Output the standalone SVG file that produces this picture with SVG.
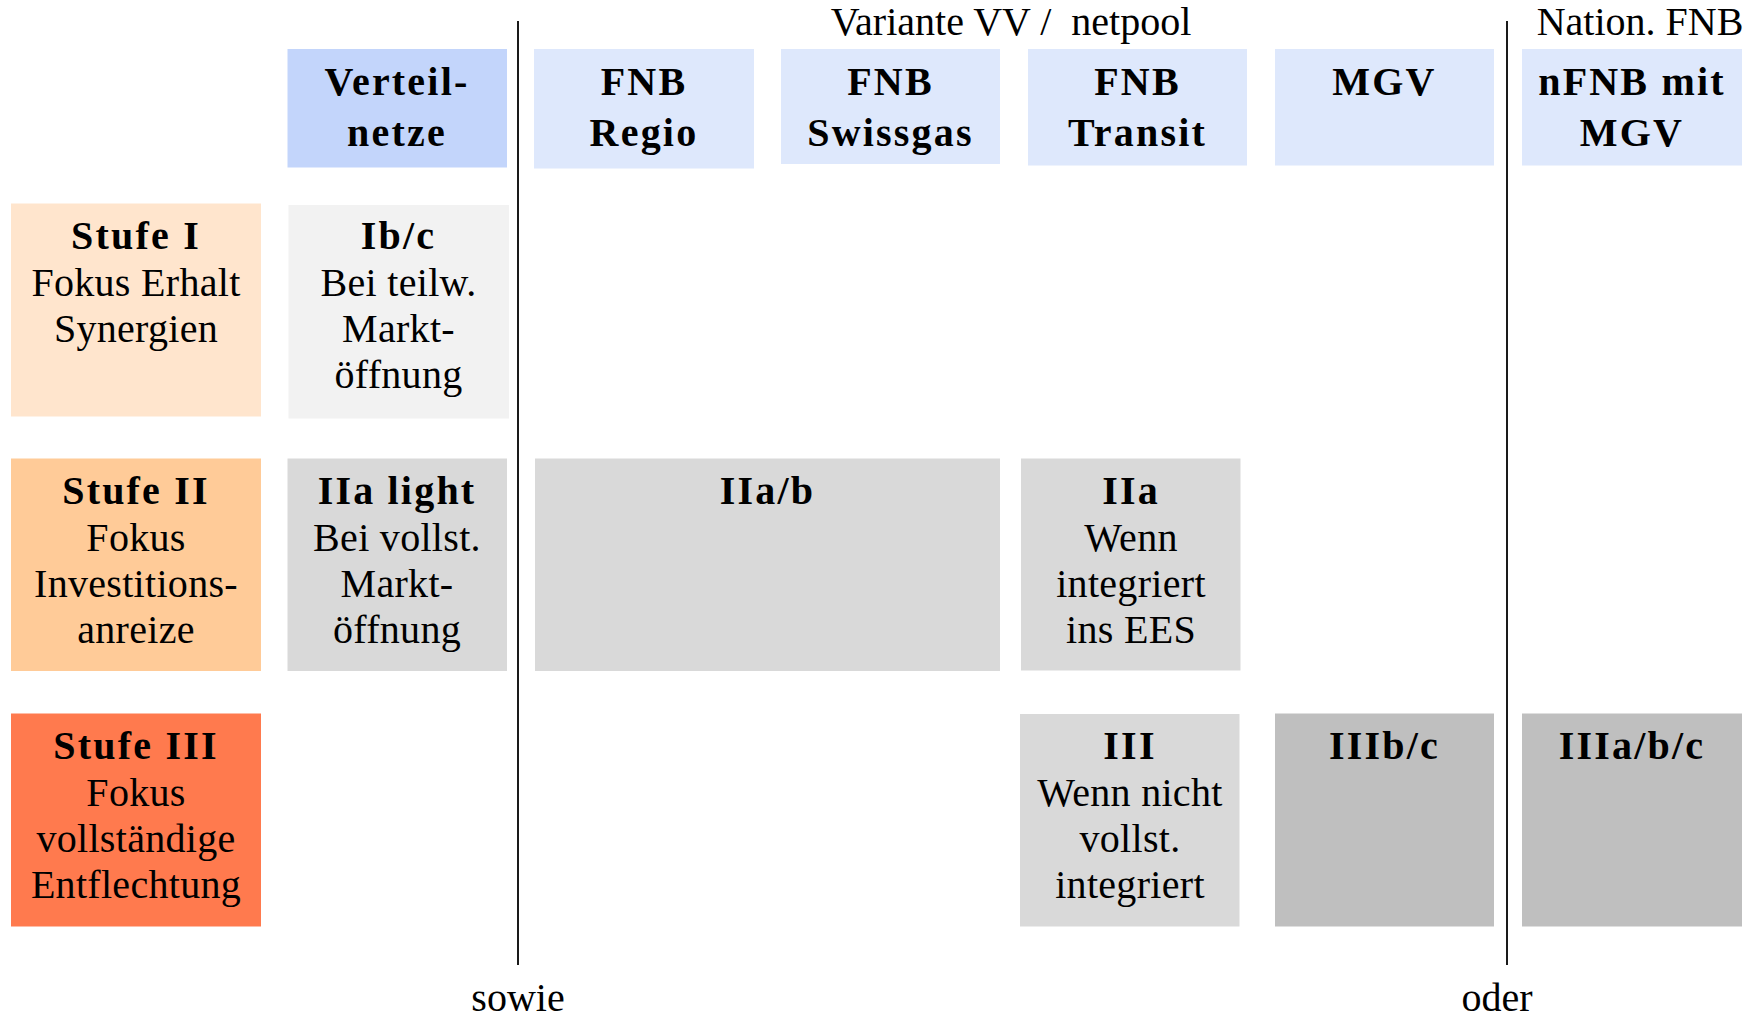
<svg xmlns="http://www.w3.org/2000/svg" width="1754" height="1021" viewBox="0 0 1754 1021">
<style>
text{font-family:"Liberation Serif","Times New Roman",serif;font-size:40px;fill:#000;text-anchor:middle}
.b{font-weight:bold;letter-spacing:2.2px}
.r{letter-spacing:0.3px}
.pre{white-space:pre}
.hdA{fill:#C3D5FB}
.hd{fill:#DEE8FC}
.s1{fill:#FFE5CD}
.s2{fill:#FFCB98}
.s3{fill:#FF7A4E}
.g1{fill:#F2F2F2}
.g2{fill:#D9D9D9}
.g3{fill:#BFBFBF}
.sep{stroke:#1a1a1a;stroke-width:2;fill:none}
</style>
<rect width="1754" height="1021" fill="#fff"/>
<g id="connectors">
<line class="sep" x1="518" y1="21" x2="518" y2="965"/>
<line class="sep" x1="1507" y1="21" x2="1507" y2="965"/>
</g>
<g id="labels">
<text class="pre" x="1011" y="35">Variante VV /  netpool</text>
<text x="1640" y="35">Nation. FNB</text>
<text x="518" y="1011">sowie</text>
<text x="1497" y="1011">oder</text>
</g>
<g id="h-verteilnetze">
<rect class="hdA" x="287.5" y="49" width="219.5" height="118.5"/>
<text class="b" x="397" y="94.5">Verteil-</text>
<text class="b" x="397" y="146">netze</text>
</g>
<g id="h-fnb-regio">
<rect class="hd" x="534" y="49" width="220" height="119.5"/>
<text class="b" x="644" y="94.5">FNB</text>
<text class="b" x="644" y="146">Regio</text>
</g>
<g id="h-fnb-swissgas">
<rect class="hd" x="781" y="49" width="219" height="115"/>
<text class="b" x="890.5" y="94.5">FNB</text>
<text class="b" x="890.5" y="146">Swissgas</text>
</g>
<g id="h-fnb-transit">
<rect class="hd" x="1028" y="49" width="219" height="116.5"/>
<text class="b" x="1137.5" y="94.5">FNB</text>
<text class="b" x="1137.5" y="146">Transit</text>
</g>
<g id="h-mgv">
<rect class="hd" x="1275" y="49" width="219" height="116.5"/>
<text class="b" x="1384.5" y="94.5">MGV</text>
</g>
<g id="h-nfnb">
<rect class="hd" x="1522" y="49" width="220" height="116.5"/>
<text class="b" x="1632" y="94.5">nFNB mit</text>
<text class="b" x="1632" y="146">MGV</text>
</g>
<g id="stufe-1">
<rect class="s1" x="11" y="203.5" width="250" height="213"/>
<text class="b" x="136" y="249">Stufe I</text>
<text class="r" x="136" y="295.5">Fokus Erhalt</text>
<text class="r" x="136" y="341.5">Synergien</text>
</g>
<g id="stufe-2">
<rect class="s2" x="11" y="458.5" width="250" height="212.5"/>
<text class="b" x="136" y="504">Stufe II</text>
<text class="r" x="136" y="550.5">Fokus</text>
<text class="r" x="136" y="596.5">Investitions-</text>
<text class="r" x="136" y="642.5">anreize</text>
</g>
<g id="stufe-3">
<rect class="s3" x="11" y="713.5" width="250" height="213"/>
<text class="b" x="136" y="759">Stufe III</text>
<text class="r" x="136" y="805.5">Fokus</text>
<text class="r" x="136" y="851.5">vollständige</text>
<text class="r" x="136" y="897.5">Entflechtung</text>
</g>
<g id="ib-c">
<rect class="g1" x="288.5" y="205" width="220.5" height="213.5"/>
<text class="b" x="398.5" y="249">Ib/c</text>
<text class="r" x="398.5" y="295.5">Bei teilw.</text>
<text class="r" x="398.5" y="341.5">Markt-</text>
<text class="r" x="398.5" y="387.5">öffnung</text>
</g>
<g id="iia-light">
<rect class="g2" x="287.5" y="458.5" width="219.5" height="212.5"/>
<text class="b" x="397" y="504">IIa light</text>
<text class="r" x="397" y="550.5">Bei vollst.</text>
<text class="r" x="397" y="596.5">Markt-</text>
<text class="r" x="397" y="642.5">öffnung</text>
</g>
<g id="iia-b">
<rect class="g2" x="535" y="458.5" width="465" height="212.5"/>
<text class="b" x="767.5" y="504">IIa/b</text>
</g>
<g id="iia">
<rect class="g2" x="1021" y="458.5" width="219.5" height="212"/>
<text class="b" x="1131" y="504">IIa</text>
<text class="r" x="1131" y="550.5">Wenn</text>
<text class="r" x="1131" y="596.5">integriert</text>
<text class="r" x="1131" y="642.5">ins EES</text>
</g>
<g id="iii">
<rect class="g2" x="1020" y="714" width="219.5" height="212.5"/>
<text class="b" x="1130" y="759">III</text>
<text class="r" x="1130" y="805.5">Wenn nicht</text>
<text class="r" x="1130" y="851.5">vollst.</text>
<text class="r" x="1130" y="897.5">integriert</text>
</g>
<g id="iiib-c">
<rect class="g3" x="1275" y="713.5" width="219" height="213"/>
<text class="b" x="1384.5" y="759">IIIb/c</text>
</g>
<g id="iiia-b-c">
<rect class="g3" x="1522" y="713.5" width="220" height="213"/>
<text class="b" x="1632" y="759">IIIa/b/c</text>
</g>
</svg>
